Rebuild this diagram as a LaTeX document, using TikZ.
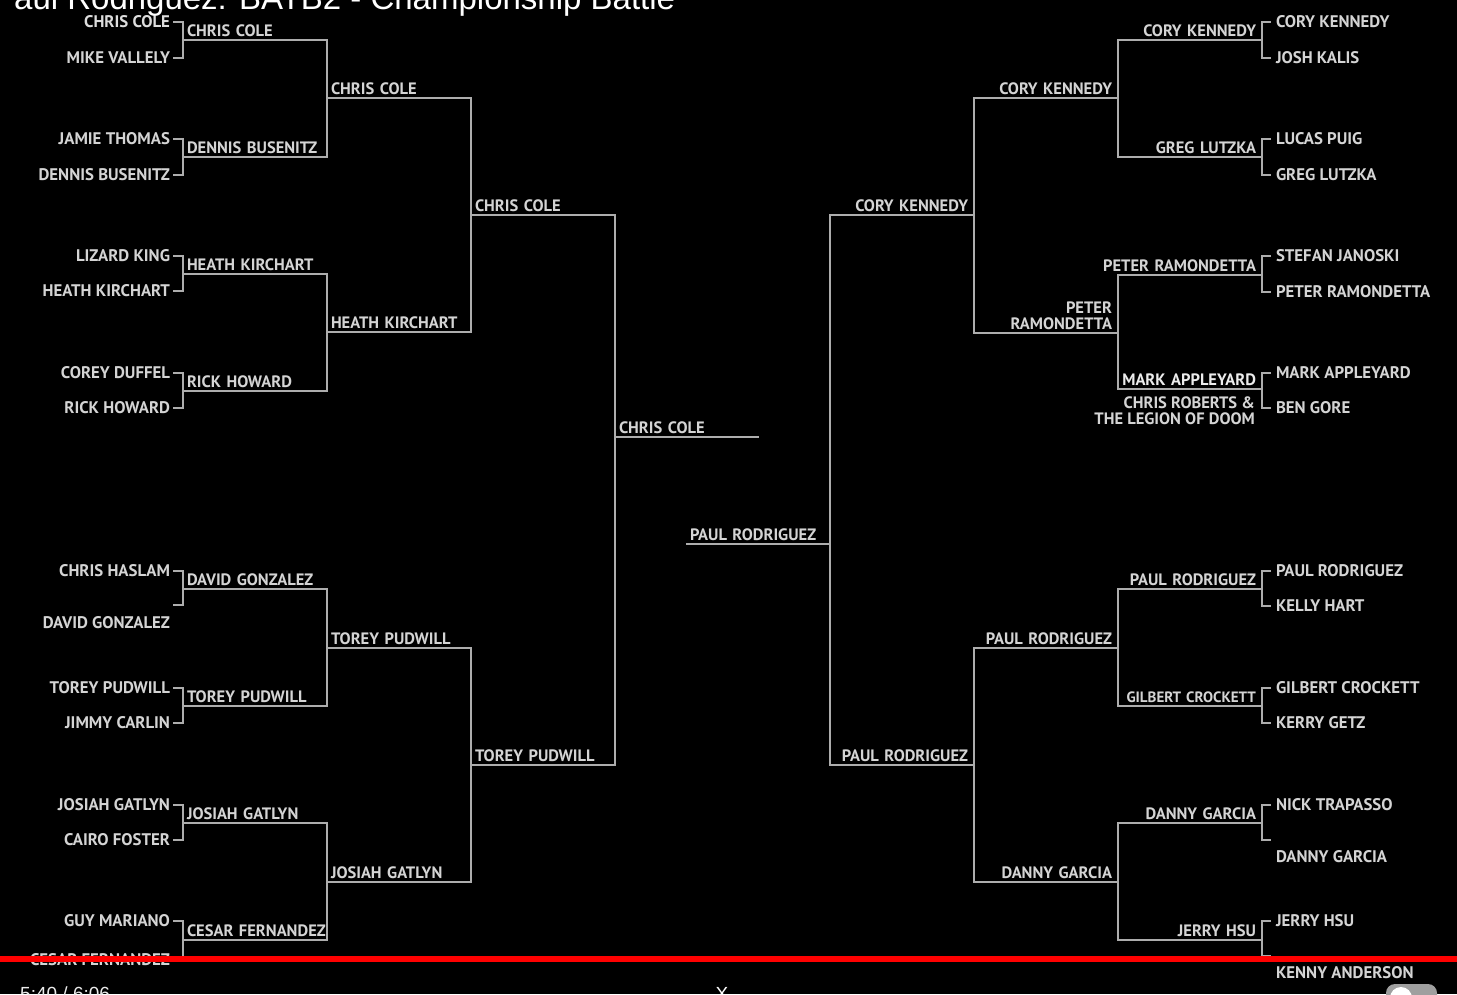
\documentclass[tikz,border=0pt]{standalone}
\usepackage{fontspec}
\setmainfont{PT Sans}
\newfontfamily\uifont{Liberation Sans}
\definecolor{ink}{HTML}{D4D4D4}
\definecolor{rule}{HTML}{ADADAD}
\definecolor{ytred}{HTML}{FF0000}
\begin{document}
\begin{tikzpicture}[x=1pt,y=-1pt]
  \tikzset{
    bline/.style={draw=rule,line width=2pt},
    seedL/.style={anchor=east,inner sep=0pt,outer sep=0pt,text=ink,
      font=\bfseries\fontsize{16.8}{16}\selectfont},
    seedR/.style={seedL,anchor=west},
    slotbase/.style={minimum width=144pt,inner ysep=3pt,outer sep=0pt,text=ink,
      font=\bfseries\fontsize{16.5}{16}\selectfont},
    slotL/.style={slotbase,anchor=south west,text width=136pt,inner xsep=4pt,align=left,
      execute at begin node={\hbox to\linewidth\bgroup},
      execute at end node={\hss\egroup}},
    slotR/.style={slotbase,anchor=south east,text width=132pt,inner xsep=6pt,align=right,
      execute at begin node={\hbox to\linewidth\bgroup\hss},
      execute at end node={\egroup}},
    slotTwo/.style={slotbase,anchor=south east,text width=132pt,inner xsep=6pt,align=right},
  }
  \useasboundingbox (0,0) rectangle (1457,994);
  \clip (0,0) rectangle (1457,994);
  \fill[black] (0,0) rectangle (1457,994);

  %LEFT, first round
  \node[seedL,text=ink!80] (cole)    at (170,22)  {CHRIS COLE};
  \node[seedL] (vallely)  at (170,58)  {MIKE VALLELY};
  \node[seedL] (thomas)   at (170,139) {JAMIE THOMAS};
  \node[seedL] (busenitz) at (170,175) {DENNIS BUSENITZ};
  \node[seedL] (king)     at (170,256) {LIZARD KING};
  \node[seedL] (kirchart) at (170,291) {HEATH KIRCHART};
  \node[seedL] (duffel)   at (170,373) {COREY DUFFEL};
  \node[seedL] (howard)   at (170,408) {RICK HOWARD};
  \node[seedL] (haslam)   at (170,571) {CHRIS HASLAM};
  \node[seedL] (gonzalez) at (170,623) {DAVID GONZALEZ};
  \coordinate (gonzTick) at (173,605);
  \node[seedL] (pudwill)  at (170,688) {TOREY PUDWILL};
  \node[seedL] (carlin)   at (170,723) {JIMMY CARLIN};
  \node[seedL] (gatlyn)   at (170,805) {JOSIAH GATLYN};
  \node[seedL] (foster)   at (170,840) {CAIRO FOSTER};
  \node[seedL] (mariano)  at (170,921) {GUY MARIANO};
  \node[seedL] (fernandez) at (170,960) {CESAR FERNANDEZ};

  %LEFT, later rounds
  \node[slotL] (l1) at (183,40)  {CHRIS COLE};
  \node[slotL] (l2) at (183,157) {DENNIS BUSENITZ};
  \node[slotL] (l3) at (183,274) {HEATH KIRCHART};
  \node[slotL] (l4) at (183,391) {RICK HOWARD};
  \node[slotL] (l5) at (183,589) {DAVID GONZALEZ};
  \node[slotL] (l6) at (183,706) {TOREY PUDWILL};
  \node[slotL] (l7) at (183,823) {JOSIAH GATLYN};
  \node[slotL] (l8) at (183,940) {CESAR FERNANDEZ};
  \node[slotL] (l9)  at (327,98)  {CHRIS COLE};
  \node[slotL] (l10) at (327,332) {HEATH KIRCHART};
  \node[slotL] (l11) at (327,648) {TOREY PUDWILL};
  \node[slotL] (l12) at (327,882) {JOSIAH GATLYN};
  \node[slotL] (l13) at (471,215) {CHRIS COLE};
  \node[slotL] (l14) at (471,765) {TOREY PUDWILL};
  \node[slotL] (lfin) at (615,437) {CHRIS COLE};

  \draw[bline] ([xshift=3pt]cole.east) -| (l1.south west) |- ([xshift=3pt]vallely.east);
  \draw[bline] ([xshift=3pt]thomas.east) -| (l2.south west) |- ([xshift=3pt]busenitz.east);
  \draw[bline] ([xshift=3pt]king.east) -| (l3.south west) |- ([xshift=3pt]kirchart.east);
  \draw[bline] ([xshift=3pt]duffel.east) -| (l4.south west) |- ([xshift=3pt]howard.east);
  \draw[bline] ([xshift=3pt]haslam.east) -| (l5.south west) |- (gonzTick);
  \draw[bline] ([xshift=3pt]pudwill.east) -| (l6.south west) |- ([xshift=3pt]carlin.east);
  \draw[bline] ([xshift=3pt]gatlyn.east) -| (l7.south west) |- ([xshift=3pt]foster.east);
  \draw[bline] ([xshift=3pt]mariano.east) -| (l8.south west) |- ([xshift=3pt]fernandez.east);
  \foreach \a/\b in {l1/l2,l3/l4,l5/l6,l7/l8,l9/l10,l11/l12,l13/l14}
    \draw[bline] (\a.south west) -- (\a.south east) -- (\b.south east) -- (\b.south west);
  \draw[bline] (lfin.south west) -- (lfin.south east);

  %RIGHT, first round
  \node[seedR] (kennedy)   at (1276,22)  {CORY KENNEDY};
  \node[seedR] (kalis)     at (1276,58)  {JOSH KALIS};
  \node[seedR] (puig)      at (1276,139) {LUCAS PUIG};
  \node[seedR] (lutzka)    at (1276,175) {GREG LUTZKA};
  \node[seedR] (janoski)   at (1276,256) {STEFAN JANOSKI};
  \node[seedR] (ramondetta) at (1276,292) {PETER RAMONDETTA};
  \node[seedR] (appleyard) at (1276,373) {MARK APPLEYARD};
  \node[seedR] (gore)      at (1276,408) {BEN GORE};
  \node[seedR] (rodriguez) at (1276,571) {PAUL RODRIGUEZ};
  \node[seedR] (hart)      at (1276,606) {KELLY HART};
  \node[seedR] (crockett)  at (1276,688) {GILBERT CROCKETT};
  \node[seedR] (getz)      at (1276,723) {KERRY GETZ};
  \node[seedR] (trapasso)  at (1276,805) {NICK TRAPASSO};
  \node[seedR] (garcia)    at (1276,857) {DANNY GARCIA};
  \coordinate (garciaTick) at (1271,840);
  \node[seedR] (hsu)       at (1276,921) {JERRY HSU};
  \node[seedR] (anderson)  at (1276,973) {KENNY ANDERSON};
  \coordinate (andersonTick) at (1271,956);

  %RIGHT, later rounds
  \node[slotR] (r1) at (1262,40)  {CORY KENNEDY};
  \node[slotR] (r2) at (1262,157) {GREG LUTZKA};
  \node[slotR] (r3) at (1262,275) {PETER RAMONDETTA};
  \node[slotR,text=ink!45] (r4) at (1262,389) {MARK APPLEYARD};
  \node[anchor=north east,inner sep=0pt,align=right,text=ink,
    font=\bfseries\fontsize{16.5}{16}\selectfont] (legion)
    at ([xshift=-7pt,yshift=-8pt]r4.south east) {CHRIS ROBERTS \&\\THE LEGION OF DOOM};
  \node[slotR] (r5) at (1262,589) {PAUL RODRIGUEZ};
  \node[slotR,font=\bfseries\fontsize{15}{16}\selectfont] (r6) at (1262,706) {GILBERT CROCKETT};
  \node[slotR] (r7) at (1262,823) {DANNY GARCIA};
  \node[slotR] (r8) at (1262,940) {JERRY HSU};
  \node[slotR] (r9)  at (1118,98)  {CORY KENNEDY};
  \node[slotTwo] (r10) at (1118,333) {PETER\\RAMONDETTA};
  \node[slotR] (r11) at (1118,648) {PAUL RODRIGUEZ};
  \node[slotR] (r12) at (1118,882) {DANNY GARCIA};
  \node[slotR] (r13) at (974,215) {CORY KENNEDY};
  \node[slotR] (r14) at (974,765) {PAUL RODRIGUEZ};
  \node[slotL] (rfin) at (686,544) {PAUL RODRIGUEZ};

  \draw[bline] ([xshift=-5pt]kennedy.west) -| (r1.south east) |- ([xshift=-5pt]kalis.west);
  \draw[bline] ([xshift=-5pt]puig.west) -| (r2.south east) |- ([xshift=-5pt]lutzka.west);
  \draw[bline] ([xshift=-5pt]janoski.west) -| (r3.south east) |- ([xshift=-5pt]ramondetta.west);
  \draw[bline] ([xshift=-5pt]appleyard.west) -| (r4.south east) |- ([xshift=-5pt]gore.west);
  \draw[bline] ([xshift=-5pt]rodriguez.west) -| (r5.south east) |- ([xshift=-5pt]hart.west);
  \draw[bline] ([xshift=-5pt]crockett.west) -| (r6.south east) |- ([xshift=-5pt]getz.west);
  \draw[bline] ([xshift=-5pt]trapasso.west) -| (r7.south east) |- (garciaTick);
  \draw[bline] ([xshift=-5pt]hsu.west) -| (r8.south east) |- (andersonTick);
  \foreach \a/\b in {r1/r2,r3/r4,r5/r6,r7/r8,r9/r10,r11/r12,r13/r14}
    \draw[bline] (\a.south east) -- (\a.south west) -- (\b.south west) -- (\b.south east);
  \draw[bline] (rfin.south east) -- (rfin.south west);

  %player frame
  \node[anchor=base west,inner sep=0pt,text=white,
    font=\uifont\fontsize{33}{33}\selectfont] (title) at (14,9)
    {aul Rodriguez: BATB2 - Championship Battle};
  \fill[ytred] (0,956) rectangle (1457,962);
  \node[anchor=base west,inner sep=0pt,text=white!92!black,
    font=\uifont\fontsize{19}{19}\selectfont] (clock) at (20,1000) {5:40 / 6:06};
  \node[anchor=base,inner sep=0pt,text=white,
    font=\uifont\fontsize{19}{19}\selectfont] (close) at (722,1000) {X};
  \fill[gray!75,rounded corners=9pt] (1386,984) rectangle (1437,1012);
  \fill[white] (1401,998) circle (11);
\end{tikzpicture}
\end{document}
